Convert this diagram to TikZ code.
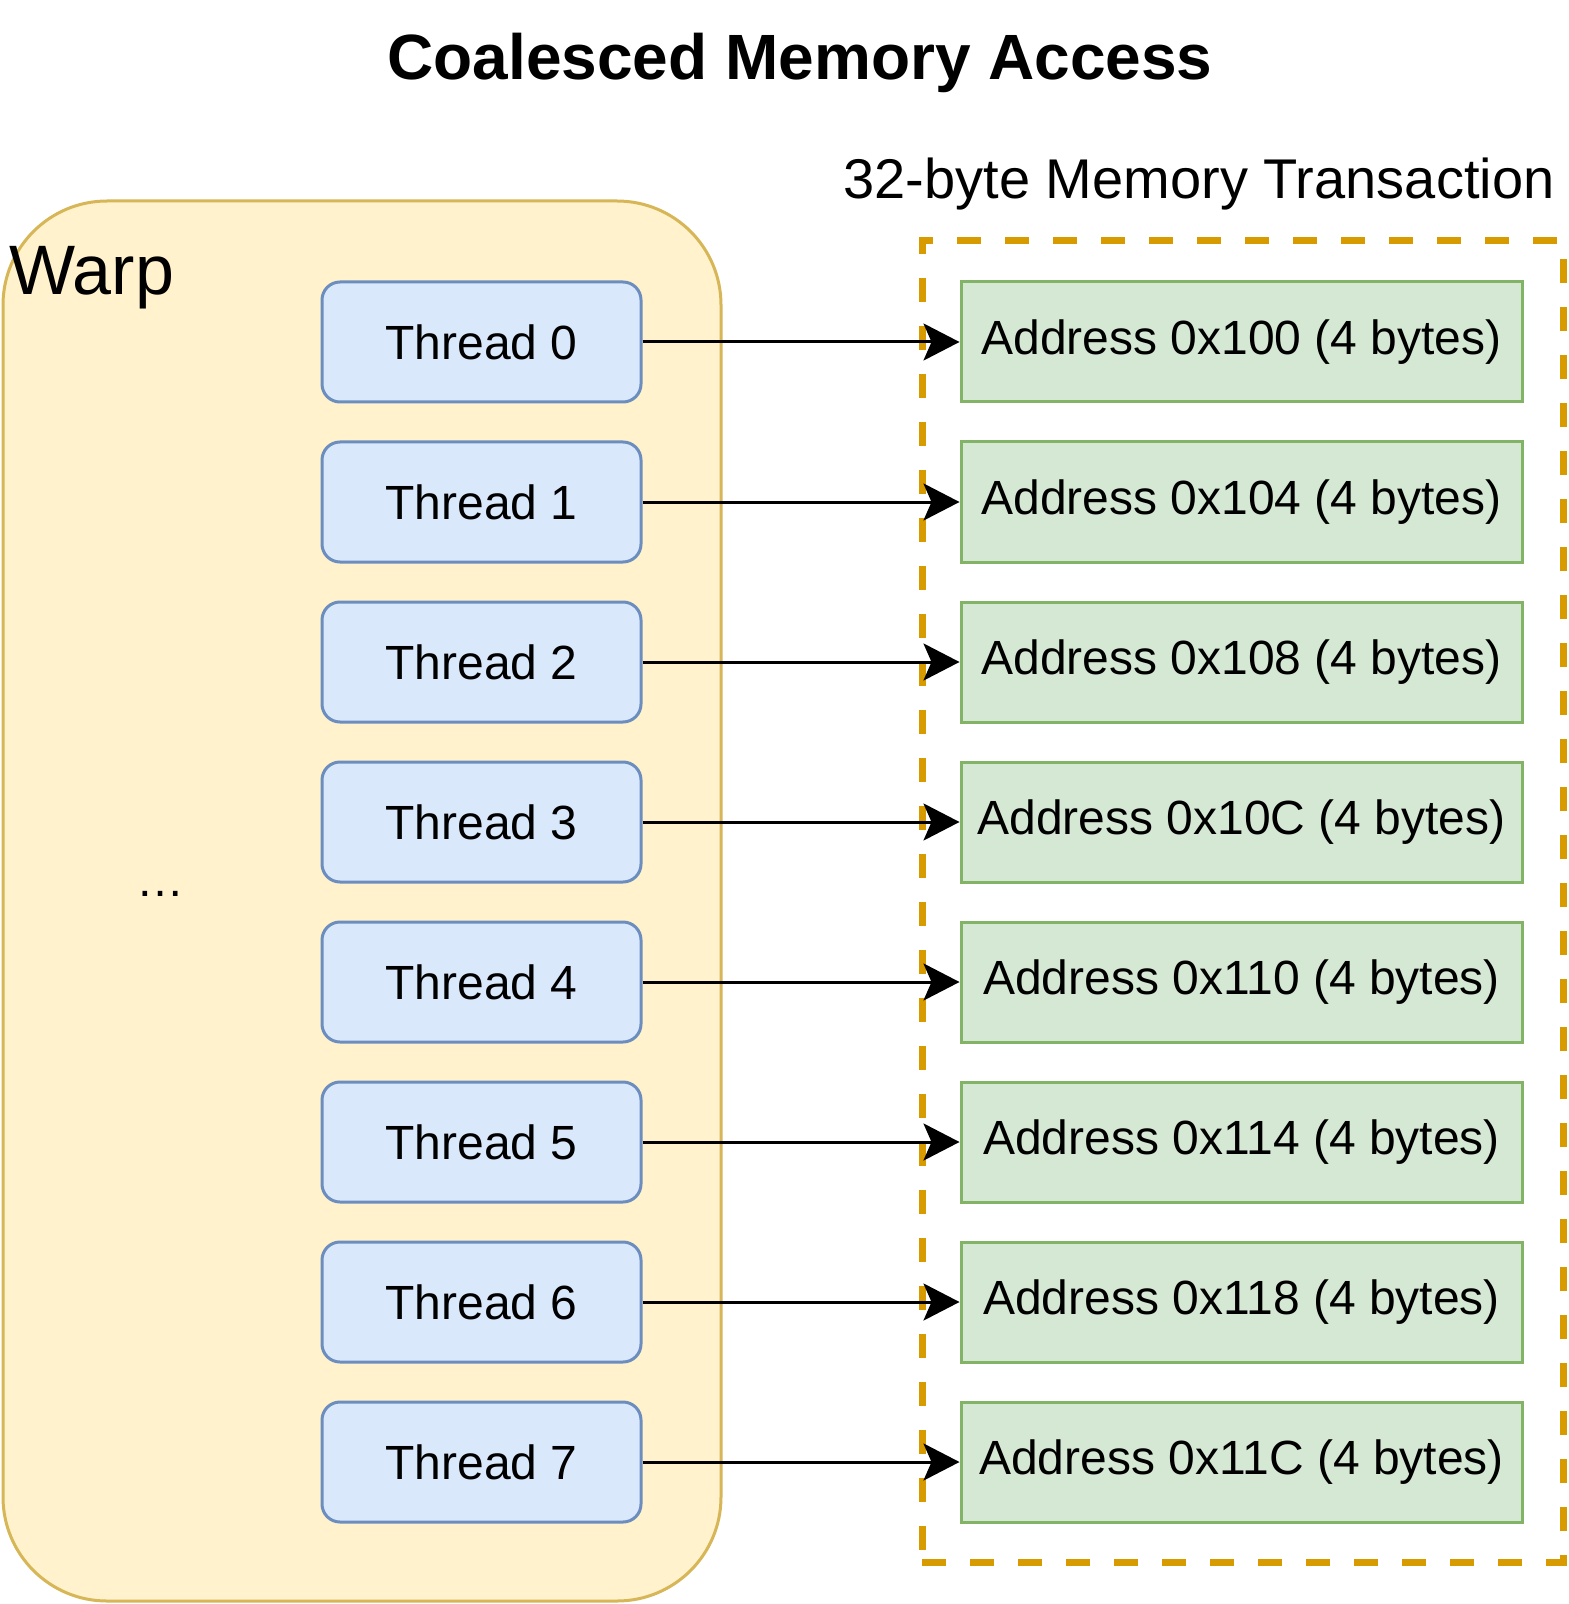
\documentclass[tikz,border=0pt]{standalone}
\usepackage{fontspec}
\setmainfont{Liberation Sans}
\usetikzlibrary{arrows.meta,positioning}
\definecolor{warpfill}{HTML}{FFF2CC}
\definecolor{warpline}{HTML}{D6B656}
\definecolor{thrfill}{HTML}{DAE8FC}
\definecolor{thrline}{HTML}{6C8EBF}
\definecolor{addrfill}{HTML}{D5E8D4}
\definecolor{addrline}{HTML}{82B366}
\definecolor{transline}{HTML}{D79B00}

\begin{document}
\begin{tikzpicture}[x=0.5pt, y=-0.5pt,
  warp/.style={rectangle, rounded corners=52pt, draw=warpline, line width=1.5pt, fill=warpfill, minimum width=359pt, minimum height=700pt, inner sep=0pt},
  thread/.style={rectangle, rounded corners=9pt, draw=thrline, line width=1.5pt, fill=thrfill, minimum width=159.5pt, minimum height=60pt, inner sep=0pt, font=\fontsize{24}{29}\selectfont},
  addr/.style={rectangle, draw=addrline, line width=1.5pt, fill=addrfill, minimum width=280.5pt, minimum height=60pt, inner sep=0pt, font=\fontsize{24}{29}\selectfont},
  trans/.style={rectangle, draw=transline, line width=3.5pt, dash pattern=on 12pt off 12pt, minimum width=320.5pt, minimum height=660.5pt, inner sep=0pt},
  arr/.style={-{Stealth[length=18pt, width=18.5pt, inset=4pt]}, line width=1.5pt}
]
  \useasboundingbox (0,0) rectangle (1568,1604);
  \node[font=\fontsize{32}{38}\selectfont\bfseries, anchor=base, inner sep=0pt] (title) at (800,80) {Coalesced Memory Access};
  \node[warp] (warp) at (362,901) {};
  \node[font=\fontsize{35}{42}\selectfont, anchor=base west, inner sep=0pt] (warplbl) at (9,295) {Warp};
  \node[font=\fontsize{24}{29}\selectfont, anchor=base, inner sep=0pt] (dots) at (160,896) {…};
  \node[trans] (trans) at (1242.5,901.5) {};
  \node[font=\fontsize{28}{34}\selectfont, anchor=base, inner sep=0pt] (translbl) at (1199,199) {32-byte Memory Transaction};
  \foreach \i/\a in {0/100, 1/104, 2/108, 3/10C, 4/110, 5/114, 6/118, 7/11C}{
    \node[thread] (t\i) at ({481.5},{342+160*\i}) {Thread \i};
    \node[addr] (a\i) at ({1241.5},{342+160*\i}) {Address 0x\a\ (4 bytes)};
    \draw[arr] (t\i.east) -- (a\i.west);
  }
\end{tikzpicture}
\end{document}
